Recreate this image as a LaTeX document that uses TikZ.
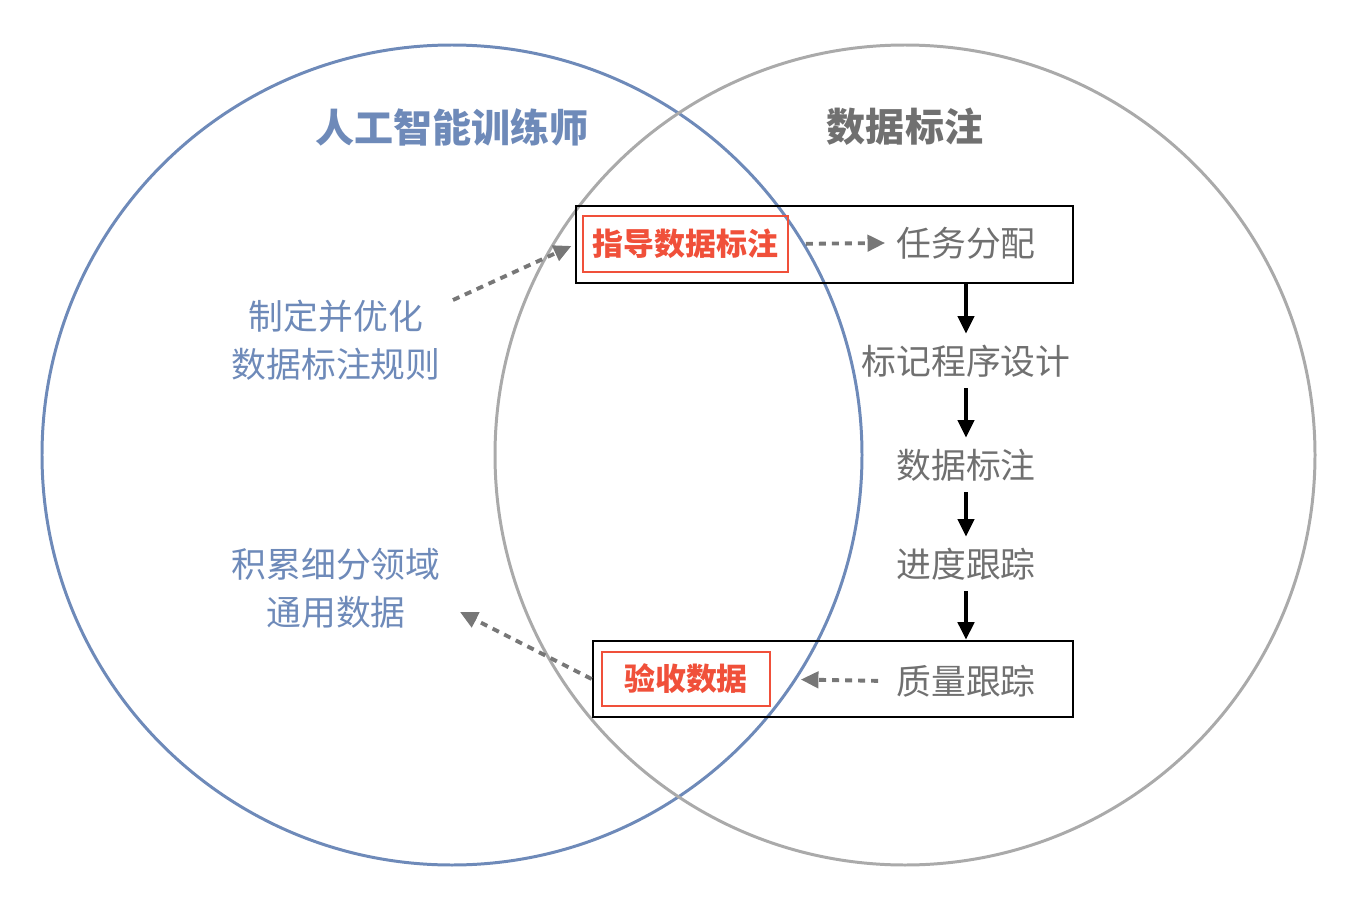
\documentclass[tikz,border=0pt]{standalone}
\usepackage{fontspec}
\setmainfont{Noto Sans CJK SC}
\usepackage{xcolor}
\usetikzlibrary{arrows.meta}
\definecolor{aiblue}{HTML}{6E8AB9}
\definecolor{markgray}{HTML}{AAAAAA}
\definecolor{txtgray}{HTML}{707070}
\definecolor{keyred}{HTML}{F0503A}
\definecolor{dashgray}{HTML}{777777}

\begin{document}
\begin{tikzpicture}[x=0.01cm,y=-0.01cm,
	title/.style={font=\fontsize{11.1}{13}\selectfont\bfseries},
	label/.style={font=\fontsize{9.9}{13.7}\selectfont,align=center,inner sep=3pt},
	keybox/.style={draw=keyred,line width=0.5pt,text=keyred,font=\fontsize{8.8}{10}\selectfont\bfseries,inner sep=0pt},
	stagebox/.style={draw=black,line width=0.7pt,inner sep=0pt},
	flow/.style={black,line width=1.1pt,-{Triangle[length=5pt,width=4.6pt]}},
	hint/.style={dashgray,line width=1.1pt,dash pattern=on 2pt off 1.7pt,-{Triangle[length=5pt,width=4.6pt]}}]
			\useasboundingbox (0,0) rectangle (1360,906);
			\draw[aiblue,line width=0.85pt] (452,455) circle[radius=410];
			\draw[markgray,line width=0.85pt] (905,455) circle[radius=410];

			\node[title,text=aiblue] (aititle) at (452,127) {人工智能训练师};
			\node[title,text=txtgray] (marktitle) at (905,127) {数据标注};

			\node[stagebox,minimum width=4.97cm,minimum height=0.77cm] (box1) at (824.5,244.5) {};
			\node[stagebox,minimum width=4.80cm,minimum height=0.76cm] (box2) at (833,679) {};
			\node[keybox,minimum width=2.05cm,minimum height=0.56cm] (guide) at (685.5,244) {指导数据标注};
			\node[keybox,minimum width=1.68cm,minimum height=0.54cm] (accept) at (686,679) {验收数据};

			\node[label,text=txtgray] (t1) at (966,243) {任务分配};
			\node[label,text=txtgray] (t2) at (966,361) {标记程序设计};
			\node[label,text=txtgray] (t3) at (966,465) {数据标注};
			\node[label,text=txtgray] (t4) at (966,564) {进度跟踪};
			\node[label,text=txtgray] (t5) at (966,681) {质量跟踪};

			\node[label,text=aiblue] (rule) at (336,340) {制定并优化\\数据标注规则};
			\node[label,text=aiblue] (acc) at (336,588) {积累细分领域\\通用数据};

			\draw[flow] (t1 |- box1.south) -- (t2);
			\draw[flow] (t2) -- (t3);
			\draw[flow] (t3) -- (t4);
			\draw[flow] (t4) -- (t1 |- box2.north);

			\draw[hint,shorten <=4.8pt] (guide.east) -- (t1.west);
			\draw[hint,shorten <=2pt,shorten >=8.5pt] (t5.west) -- (accept.east);

			\coordinate (rulestart) at (453,300);
			\coordinate (accend) at (460,612);
			\draw[hint,shorten >=1pt] (rulestart) -- (box1.west);
			\draw[hint] (box2.west) -- (accend);
		\end{tikzpicture}
\end{document}
